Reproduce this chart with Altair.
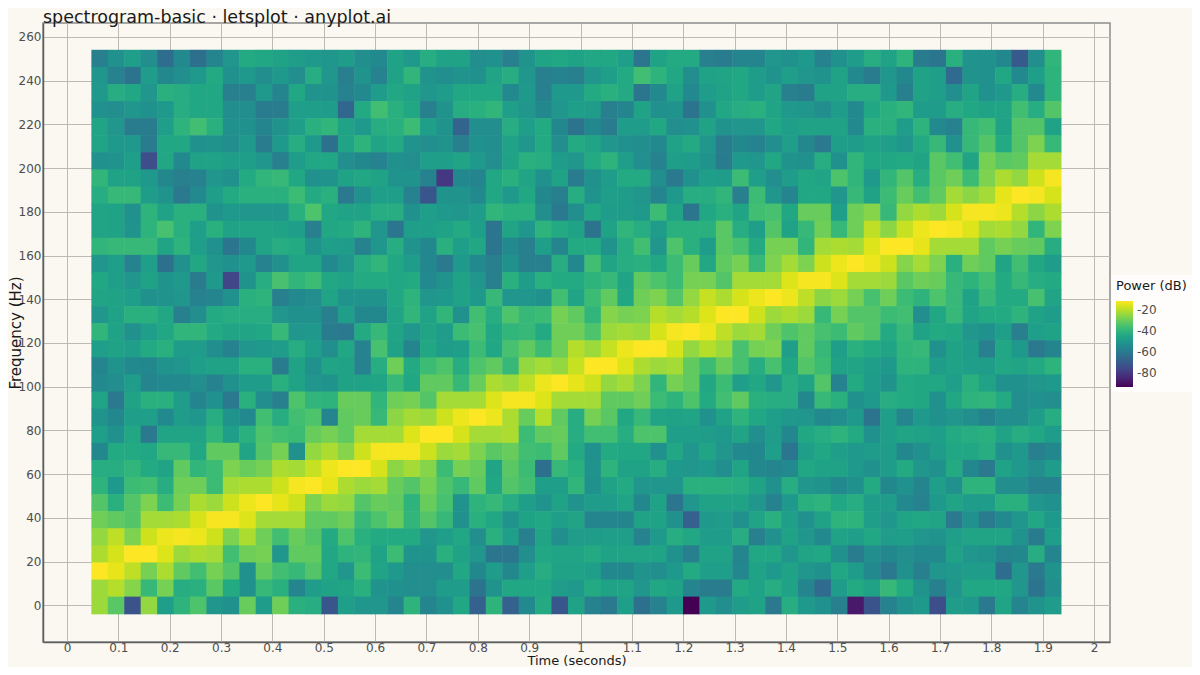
import altair as alt
import pandas as pd

# Frame centre times (s), 59 columns
times = [0.064, 0.096, 0.128, 0.16, 0.192, 0.224, 0.256, 0.288, 0.32, 0.352,
         0.384, 0.416, 0.448, 0.48, 0.512, 0.544, 0.576, 0.608, 0.64, 0.672,
         0.704, 0.736, 0.768, 0.8, 0.832, 0.864, 0.896, 0.928, 0.96, 0.992,
         1.024, 1.056, 1.088, 1.12, 1.152, 1.184, 1.216, 1.248, 1.28, 1.312,
         1.344, 1.376, 1.408, 1.44, 1.472, 1.504, 1.536, 1.568, 1.6, 1.632,
         1.664, 1.696, 1.728, 1.76, 1.792, 1.824, 1.856, 1.888, 1.92]
# Bin centre frequencies (Hz), top row first
freqs = [250.0, 242.1875, 234.375, 226.5625, 218.75, 210.9375, 203.125, 195.3125,
         187.5, 179.6875, 171.875, 164.0625, 156.25, 148.4375, 140.625, 132.8125,
         125.0, 117.1875, 109.375, 101.5625, 93.75, 85.9375, 78.125, 70.3125,
         62.5, 54.6875, 46.875, 39.0625, 31.25, 23.4375, 15.625, 7.8125, 0.0]
# Half cell sizes, slightly over half a bin so neighbouring rects leave no seam
half_t = 0.0165
half_f = 4.05

# Power in dB, one list per frequency row, top row first
p00 = [-58,-52,-47,-53,-64,-54,-63,-56,-50,-43,-44,-46,-48,-49,-50,-48,-53,-54,-46,-49,-42,-46,-46,-53,-52,-58,-51,-45,-44,-46,-44,-44,-47,-61,-46,-43,-43,-58,-59,-56,-56,-50,-52,-49,-57,-52,-48,-42,-46,-40,-59,-61,-41,-51,-52,-55,-70,-53,-39]
p01 = [-50,-57,-62,-48,-55,-53,-49,-43,-52,-49,-53,-49,-53,-42,-50,-58,-51,-57,-46,-39,-51,-53,-51,-52,-45,-42,-50,-58,-57,-58,-50,-47,-43,-36,-40,-44,-53,-46,-45,-44,-48,-51,-47,-50,-51,-46,-54,-59,-50,-55,-46,-47,-65,-51,-52,-44,-54,-47,-40]
p02 = [-49,-42,-44,-50,-41,-42,-44,-44,-58,-58,-49,-56,-44,-51,-51,-57,-54,-48,-44,-46,-50,-48,-44,-44,-44,-54,-49,-58,-49,-49,-43,-41,-43,-61,-54,-46,-54,-48,-46,-44,-48,-45,-58,-59,-46,-46,-42,-42,-49,-58,-46,-47,-53,-45,-52,-49,-42,-54,-40]
p03 = [-52,-53,-50,-52,-49,-42,-44,-44,-53,-53,-59,-59,-47,-47,-48,-66,-43,-36,-41,-44,-58,-51,-42,-41,-39,-47,-50,-55,-50,-47,-48,-58,-56,-46,-52,-51,-62,-52,-44,-42,-41,-45,-49,-50,-53,-48,-54,-44,-41,-39,-48,-48,-42,-44,-46,-45,-36,-42,-33]
p04 = [-45,-50,-59,-59,-47,-40,-36,-41,-52,-52,-56,-51,-47,-41,-39,-46,-49,-42,-41,-37,-47,-51,-67,-53,-53,-42,-47,-43,-55,-62,-55,-59,-48,-48,-44,-53,-52,-46,-51,-50,-50,-44,-47,-46,-46,-46,-54,-41,-41,-48,-40,-54,-57,-38,-36,-46,-33,-33,-46]
p05 = [-45,-49,-49,-59,-44,-44,-52,-51,-53,-49,-59,-49,-42,-49,-63,-45,-40,-45,-43,-51,-53,-51,-58,-52,-53,-46,-50,-43,-53,-43,-45,-50,-52,-53,-54,-46,-43,-50,-59,-55,-57,-53,-47,-55,-60,-47,-48,-46,-47,-50,-43,-38,-52,-38,-33,-43,-33,-27,-38]
p06 = [-52,-51,-47,-74,-44,-54,-46,-46,-47,-47,-50,-58,-48,-44,-44,-53,-55,-57,-52,-53,-47,-47,-45,-49,-53,-46,-41,-42,-48,-50,-43,-40,-47,-53,-57,-47,-48,-51,-59,-49,-50,-44,-51,-52,-42,-52,-39,-44,-44,-43,-45,-32,-36,-45,-28,-32,-31,-22,-22]
p07 = [-39,-46,-46,-49,-55,-58,-57,-50,-52,-43,-39,-38,-44,-52,-51,-46,-44,-46,-51,-51,-57,-80,-55,-56,-44,-41,-45,-52,-46,-59,-52,-48,-43,-43,-53,-60,-52,-47,-48,-37,-47,-53,-48,-44,-45,-34,-39,-49,-39,-33,-42,-32,-29,-37,-27,-21,-24,-17,-12]
p08 = [-42,-38,-38,-48,-51,-60,-54,-47,-43,-41,-41,-41,-37,-43,-41,-60,-52,-47,-47,-57,-71,-51,-51,-54,-44,-49,-44,-55,-58,-42,-51,-47,-48,-50,-56,-49,-42,-42,-39,-58,-37,-50,-56,-44,-44,-50,-38,-46,-37,-30,-36,-31,-22,-25,-22,-14,-11,-12,-16]
p09 = [-45,-46,-52,-40,-46,-41,-41,-51,-49,-50,-50,-50,-41,-34,-44,-46,-46,-42,-42,-52,-47,-49,-50,-48,-39,-41,-41,-53,-60,-53,-44,-48,-48,-49,-37,-45,-61,-44,-41,-45,-36,-35,-44,-30,-30,-47,-29,-26,-38,-24,-21,-23,-16,-12,-12,-13,-20,-25,-21]
p10 = [-45,-46,-51,-40,-35,-41,-47,-41,-46,-45,-45,-46,-47,-58,-44,-43,-40,-50,-61,-47,-47,-46,-43,-47,-61,-45,-50,-40,-43,-46,-62,-46,-39,-42,-48,-41,-41,-41,-32,-42,-47,-33,-46,-38,-29,-38,-29,-19,-25,-18,-13,-11,-12,-15,-22,-21,-24,-39,-27]
p11 = [-39,-38,-38,-38,-45,-40,-47,-52,-61,-55,-45,-42,-43,-51,-47,-48,-57,-50,-42,-51,-55,-41,-47,-44,-61,-54,-58,-47,-56,-43,-43,-51,-42,-36,-50,-34,-41,-48,-32,-35,-43,-28,-28,-39,-22,-21,-22,-15,-11,-11,-14,-22,-22,-22,-31,-28,-30,-31,-42]
p12 = [-50,-47,-57,-47,-63,-52,-44,-50,-52,-49,-57,-52,-45,-45,-54,-50,-42,-39,-44,-48,-55,-60,-49,-54,-58,-52,-58,-58,-42,-55,-36,-45,-42,-41,-44,-37,-30,-44,-31,-28,-38,-27,-22,-27,-17,-13,-11,-13,-17,-26,-22,-27,-41,-29,-31,-45,-36,-44,-48]
p13 = [-44,-47,-50,-46,-51,-49,-59,-49,-76,-51,-42,-35,-39,-37,-44,-46,-43,-43,-44,-43,-54,-51,-46,-50,-58,-41,-48,-41,-43,-43,-40,-38,-45,-31,-34,-37,-28,-28,-33,-22,-22,-22,-15,-12,-12,-15,-22,-22,-23,-32,-29,-30,-38,-40,-36,-43,-38,-42,-43]
p14 = [-45,-46,-47,-52,-51,-50,-57,-56,-52,-41,-40,-58,-54,-53,-45,-51,-51,-51,-44,-40,-50,-49,-46,-49,-38,-50,-50,-52,-36,-45,-37,-31,-44,-29,-27,-33,-24,-18,-21,-16,-13,-11,-13,-19,-25,-23,-28,-35,-29,-37,-40,-34,-38,-46,-38,-43,-43,-35,-45]
p15 = [-50,-46,-41,-41,-44,-58,-53,-43,-42,-42,-42,-50,-52,-52,-58,-47,-55,-55,-45,-39,-46,-39,-52,-36,-42,-34,-38,-37,-28,-31,-39,-26,-28,-27,-20,-22,-20,-15,-11,-11,-17,-23,-21,-23,-38,-28,-33,-33,-37,-36,-53,-44,-38,-45,-43,-43,-40,-46,-48]
p16 = [-39,-46,-52,-47,-44,-39,-39,-43,-45,-45,-44,-38,-50,-49,-59,-60,-43,-38,-45,-50,-45,-48,-37,-35,-44,-39,-38,-43,-29,-29,-34,-23,-22,-23,-16,-12,-11,-13,-19,-23,-22,-29,-34,-31,-35,-37,-31,-33,-43,-38,-46,-43,-44,-50,-52,-47,-58,-47,-46]
p17 = [-47,-46,-47,-43,-41,-48,-48,-53,-57,-50,-49,-48,-42,-47,-53,-44,-57,-35,-46,-56,-44,-48,-47,-37,-44,-35,-31,-37,-29,-20,-23,-18,-13,-11,-11,-16,-24,-20,-23,-35,-28,-27,-47,-31,-38,-47,-41,-43,-45,-39,-38,-52,-46,-48,-58,-44,-49,-60,-56]
p18 = [-56,-51,-54,-55,-51,-50,-47,-46,-46,-41,-41,-59,-46,-52,-45,-46,-57,-42,-29,-43,-37,-34,-42,-34,-31,-38,-24,-22,-24,-18,-11,-11,-15,-21,-23,-22,-31,-37,-30,-35,-42,-35,-44,-33,-37,-46,-45,-47,-49,-40,-40,-48,-46,-47,-48,-44,-45,-43,-40]
p19 = [-54,-53,-48,-56,-54,-54,-53,-57,-52,-48,-48,-41,-46,-50,-51,-46,-46,-45,-38,-44,-31,-31,-38,-30,-21,-23,-19,-13,-11,-14,-17,-24,-22,-27,-39,-28,-31,-44,-37,-47,-44,-50,-42,-45,-33,-57,-43,-48,-51,-43,-44,-44,-47,-41,-46,-52,-52,-50,-49]
p20 = [-45,-60,-46,-41,-41,-48,-56,-52,-60,-41,-53,-58,-34,-39,-40,-30,-30,-39,-29,-28,-33,-22,-22,-22,-15,-12,-12,-15,-22,-22,-22,-31,-31,-29,-37,-40,-34,-43,-36,-31,-41,-42,-42,-55,-38,-41,-52,-49,-42,-43,-44,-52,-44,-40,-39,-43,-53,-52,-53]
p21 = [-51,-55,-47,-47,-54,-48,-50,-42,-51,-54,-36,-42,-36,-34,-56,-31,-30,-38,-25,-22,-23,-17,-13,-11,-13,-21,-30,-20,-31,-42,-28,-32,-44,-38,-45,-46,-45,-52,-46,-40,-44,-47,-49,-50,-54,-53,-49,-62,-47,-56,-49,-52,-50,-53,-57,-53,-53,-48,-42]
p22 = [-47,-52,-44,-60,-45,-45,-45,-39,-47,-41,-34,-36,-37,-30,-28,-31,-22,-22,-22,-15,-11,-11,-16,-22,-22,-21,-37,-31,-30,-42,-36,-36,-42,-34,-34,-47,-47,-48,-49,-45,-53,-48,-55,-44,-42,-40,-43,-52,-47,-45,-46,-47,-43,-42,-41,-46,-42,-44,-48]
p23 = [-55,-43,-43,-44,-38,-38,-44,-31,-31,-45,-33,-28,-52,-24,-21,-26,-17,-12,-12,-12,-17,-23,-22,-27,-32,-30,-36,-37,-31,-43,-52,-43,-44,-44,-52,-44,-50,-45,-50,-54,-55,-47,-61,-47,-44,-47,-49,-48,-48,-55,-52,-48,-44,-44,-42,-52,-49,-58,-55]
p24 = [-42,-42,-39,-43,-45,-31,-39,-37,-27,-30,-28,-21,-22,-18,-13,-11,-11,-16,-25,-22,-26,-37,-28,-30,-45,-32,-37,-63,-38,-41,-51,-40,-46,-46,-42,-49,-50,-49,-53,-45,-55,-56,-54,-44,-46,-46,-49,-52,-48,-43,-50,-52,-43,-55,-60,-46,-49,-53,-48]
p25 = [-40,-49,-37,-36,-42,-29,-29,-37,-22,-21,-21,-17,-12,-11,-14,-21,-23,-22,-30,-33,-28,-34,-38,-31,-44,-33,-36,-47,-47,-39,-52,-46,-43,-50,-50,-50,-41,-41,-41,-42,-46,-52,-42,-50,-51,-54,-52,-43,-55,-52,-56,-47,-52,-40,-40,-53,-53,-57,-57]
p26 = [-33,-41,-33,-27,-37,-28,-21,-23,-17,-13,-11,-14,-17,-27,-23,-24,-33,-30,-31,-40,-30,-35,-51,-40,-38,-42,-47,-51,-46,-51,-48,-48,-45,-55,-46,-61,-50,-46,-46,-46,-50,-57,-49,-41,-40,-44,-42,-48,-48,-54,-57,-49,-45,-48,-48,-41,-41,-50,-52]
p27 = [-29,-31,-33,-22,-22,-21,-16,-12,-12,-15,-22,-22,-22,-31,-31,-29,-38,-34,-30,-39,-33,-38,-52,-41,-44,-51,-46,-44,-47,-45,-56,-56,-56,-46,-46,-52,-68,-49,-48,-52,-45,-41,-47,-52,-46,-40,-40,-47,-50,-45,-44,-45,-60,-52,-59,-54,-50,-44,-49]
p28 = [-24,-19,-27,-17,-13,-12,-13,-17,-27,-21,-29,-36,-30,-33,-43,-34,-41,-43,-43,-43,-50,-47,-44,-53,-41,-47,-58,-45,-53,-48,-48,-47,-47,-57,-49,-42,-44,-48,-48,-42,-58,-52,-46,-50,-54,-46,-47,-44,-48,-47,-50,-51,-47,-45,-45,-45,-51,-59,-47]
p29 = [-21,-16,-11,-11,-15,-23,-21,-22,-36,-29,-28,-50,-31,-31,-44,-40,-39,-46,-37,-51,-51,-41,-46,-50,-61,-61,-53,-44,-45,-45,-43,-46,-45,-45,-45,-52,-58,-46,-46,-56,-44,-44,-50,-45,-44,-52,-59,-53,-55,-53,-54,-54,-46,-50,-51,-56,-55,-42,-56]
p30 = [-11,-14,-19,-28,-21,-31,-36,-28,-33,-52,-31,-36,-38,-33,-44,-50,-37,-45,-49,-53,-53,-53,-44,-55,-48,-55,-47,-42,-46,-46,-47,-55,-55,-51,-53,-49,-43,-47,-47,-55,-46,-49,-46,-50,-52,-44,-48,-54,-60,-52,-58,-50,-49,-48,-48,-64,-50,-60,-51]
p31 = [-23,-20,-26,-38,-28,-42,-41,-32,-43,-52,-38,-41,-56,-48,-46,-45,-41,-51,-52,-53,-53,-48,-48,-62,-51,-44,-44,-44,-48,-49,-43,-46,-45,-50,-44,-46,-56,-59,-59,-43,-46,-42,-46,-56,-65,-48,-43,-46,-38,-43,-51,-58,-50,-44,-44,-44,-50,-62,-53]
p32 = [-23,-32,-72,-24,-47,-40,-34,-50,-52,-30,-48,-29,-41,-42,-71,-47,-50,-50,-56,-40,-56,-52,-44,-68,-40,-68,-54,-43,-71,-46,-57,-60,-47,-63,-57,-49,-93,-49,-53,-48,-46,-60,-42,-49,-52,-58,-88,-72,-57,-52,-49,-74,-48,-49,-60,-45,-56,-51,-48]

power_rows = [p00, p01, p02, p03, p04, p05, p06, p07, p08, p09, p10,
              p11, p12, p13, p14, p15, p16, p17, p18, p19, p20, p21,
              p22, p23, p24, p25, p26, p27, p28, p29, p30, p31, p32]

x_ticks = [0, 0.1, 0.2, 0.3, 0.4, 0.5, 0.6, 0.7, 0.8, 0.9, 1.0,
           1.1, 1.2, 1.3, 1.4, 1.5, 1.6, 1.7, 1.8, 1.9, 2.0]
y_ticks = [0, 20, 40, 60, 80, 100, 120, 140, 160, 180, 200, 220, 240, 260]
legend_ticks = [-20, -40, -60, -80]

records = []
for f, row in zip(freqs, power_rows):
    for t, p in zip(times, row):
        records.append({"t0": t - half_t, "t1": t + half_t,
                        "f0": f - half_f, "f1": f + half_f, "power": p})
df = pd.DataFrame(records)

BG = "#FAF8F1"
FONT = "DejaVu Sans"
power_scale = alt.Scale(scheme="viridis", domain=[-93, -11], nice=False)

chart = (
    alt.Chart(df)
    .mark_rect()
    .encode(
        x=alt.X("t0:Q",
                scale=alt.Scale(domain=[-0.0467, 2.031], nice=False, zero=False),
                axis=alt.Axis(title="Time (seconds)", values=x_ticks, format="~g",
                              labelOverlap=False, labelPadding=0, titlePadding=1.5,
                              titleFontSize=13)),
        x2="t1:Q",
        y=alt.Y("f0:Q",
                scale=alt.Scale(domain=[-16.7, 266.3], nice=False, zero=False),
                axis=alt.Axis(title="Frequency (Hz)", values=y_ticks, format="d",
                              labelOverlap=False, labelPadding=2, titlePadding=-5,
                              titleFontSize=15)),
        y2="f1:Q",
        color=alt.Color("power:Q", scale=power_scale,
                        legend=alt.Legend(title="Power (dB)", values=legend_ticks,
                                          type="gradient",
                                          orient="none", legendX=1068, legendY=252,
                                          gradientLength=86, gradientThickness=17,
                                          direction="vertical", fillColor="#FEFDFB",
                                          padding=5, titleFontSize=13, labelFontSize=12,
                                          titleFont=FONT, labelFont=FONT,
                                          titleColor="#1a1a1a", labelColor="#4d4d4d",
                                          titleFontWeight="normal", titlePadding=8,
                                          labelOffset=4,
                                          labelExpr="replace(datum.label, '−', '-')")),
    )
    .properties(
        width=1067,
        height=619,
        padding={"left": 35, "top": 15, "right": 82, "bottom": 25},
        autosize=alt.AutoSizeParams(type="none"),
        background=BG,
        title=alt.Title("spectrogram-basic · letsplot · anyplot.ai", anchor="start",
                        frame="group", font=FONT, fontSize=17.5, fontWeight="normal",
                        color="#1a1a1a", offset=-3),
    )
    .configure_view(stroke="#8a8a8a", strokeWidth=1.5, fill=BG)
    .configure_axis(
        grid=True, gridColor="#bdbab4", gridWidth=1, ticks=False,
        domainColor="#5f5f5f", domainWidth=1.5,
        labelFont=FONT, titleFont=FONT, labelFontSize=12,
        labelColor="#4d4d4d", titleColor="#1a1a1a", titleFontWeight="normal",
    )
)

chart.save("out.html", embed_options={"renderer": "svg", "actions": False})
